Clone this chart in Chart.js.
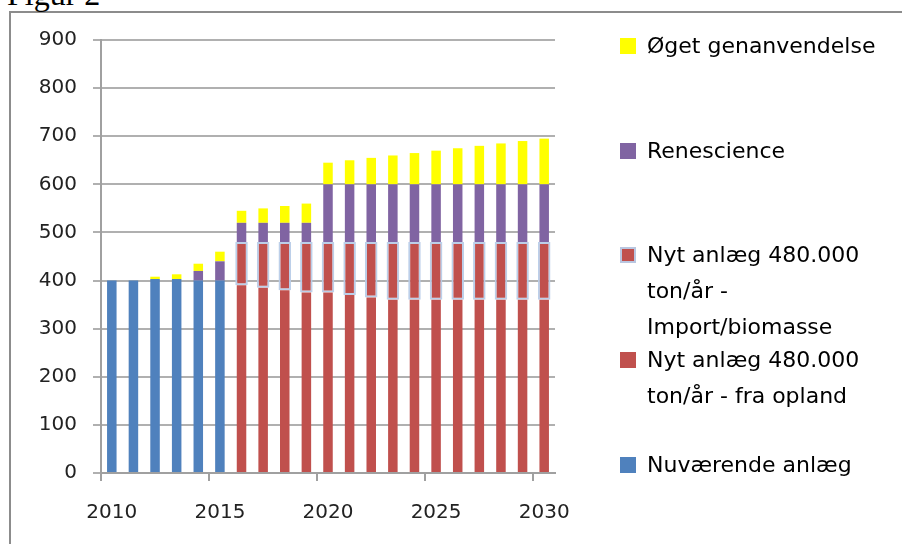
<!DOCTYPE html>
<html>
<head>
<meta charset="utf-8">
<script src="https://cdn.jsdelivr.net/npm/chart.js@4/dist/chart.umd.min.js"></script>
<style>
	body { margin: 0; background: white; overflow: hidden; }
	#Page { position: relative; width: 902px; height: 544px; overflow: hidden; }
	#FigTitle { position: absolute; left: 7px; top: -22px; font: 32px "Liberation Serif", serif; line-height: 32px; color: black; }
	#Frame { position: absolute; left: 9px; top: 11px; width: 1000px; height: 600px; border-top: 2px solid #8c8c8c; border-left: 2px solid #8c8c8c; }
	#ChartCanvas { position: absolute; left: 0; top: 0; }
	.LegendItem { position: absolute; left: 620px; font: 22px "DejaVu Sans", sans-serif; color: black; white-space: pre-line; line-height: 36px; }
	.LegendBox { position: absolute; left: 0; top: 10px; width: 16px; height: 16px; box-sizing: border-box; }
	.LegendText { position: absolute; left: 27px; top: 0; white-space: pre; }
</style>
</head>
<body>
<div id="Page">
	<div id="Frame"></div>
	<div id="FigTitle">Figur 2</div>
	<canvas id="ChartCanvas" width="902" height="544"></canvas>
	<div id="Legend"></div>
</div>
<script>
// Chart data
const years = ["2010", "2011", "2012", "2013", "2014", "2015", "2016", "2017", "2018", "2019", "2020",
	"2021", "2022", "2023", "2024", "2025", "2026", "2027", "2028", "2029", "2030"];

const nuvaerende = [400, 400, 403, 403, 400, 400, null, null, null, null, null,
	null, null, null, null, null, null, null, null, null, null];
const fraOpland = [null, null, null, null, null, null, 390, 385, 380, 375, 375,
	370, 365, 360, 360, 360, 360, 360, 360, 360, 360];
const importBiomasse = [null, null, null, null, null, null, 90, 95, 100, 105, 105,
	110, 115, 120, 120, 120, 120, 120, 120, 120, 120];
const renescience = [null, null, null, null, 20, 40, 40, 40, 40, 40, 120,
	120, 120, 120, 120, 120, 120, 120, 120, 120, 120];
const oegetGenanvendelse = [null, null, 5, 10, 15, 20, 25, 30, 35, 40, 45,
	50, 55, 60, 65, 70, 75, 80, 85, 90, 95];

const seriesNames = [
	"Nuværende anlæg",
	"Nyt anlæg 480.000\nton/år - fra opland",
	"Nyt anlæg 480.000\nton/år -\nImport/biomasse",
	"Renescience",
	"Øget genanvendelse",
];
const yTicks = [0, 100, 200, 300, 400, 500, 600, 700, 800, 900];

// Legend positions (top of each item), listed bottom series first
const legendTops = [447, 342, 237, 133, 28];

const colors = {
	blue: "#4f81bd",
	red: "#c0504d",
	purple: "#8064a2",
	yellow: "#ffff00",
	glow: "rgba(184,204,232,0.95)",
};

Chart.defaults.font.family = "'DejaVu Sans', sans-serif";
Chart.defaults.font.size = 20;
Chart.defaults.color = "#222";

const seriesData = [nuvaerende, fraOpland, importBiomasse, renescience, oegetGenanvendelse];
const seriesColors = [colors.blue, colors.red, colors.red, colors.purple, colors.yellow];

const datasets = seriesData.map(function (data, i) {
	const ds = {
		label: seriesNames[i],
		data: data,
		backgroundColor: seriesColors[i],
		borderWidth: 0,
		barPercentage: 0.44,
		categoryPercentage: 1,
	};
	if (i === 2) {
		// Import/biomasse has a light blue outline round it
		ds.borderColor = colors.glow;
		ds.borderWidth = 2;
		ds.borderSkipped = false;
		ds.barPercentage = 0.58;
	}
	return ds;
});

const chart = new Chart(document.getElementById("ChartCanvas").getContext("2d"), {
	type: "bar",
	data: {
		labels: years,
		datasets: datasets,
	},
	options: {
		responsive: false,
		animation: false,
		devicePixelRatio: 1,
		layout: {
			padding: { left: 0, top: 40, right: 347, bottom: 0 },
		},
		plugins: {
			legend: { display: false },
			tooltip: { enabled: false },
		},
		scales: {
			x: {
				stacked: true,
				offset: true,
				afterFit: function (scale) {
					scale.height = 71;
				},
				grid: {
					offset: true,
					drawOnChartArea: false,
					drawTicks: true,
					tickLength: 8,
					lineWidth: 2,
					tickColor: function (ctx) {
						return ctx.index !== undefined && ctx.index % 5 === 0 ? "#a0a0a0" : "rgba(0,0,0,0)";
					},
				},
				border: { color: "#a0a0a0", width: 2 },
				ticks: {
					autoSkip: false,
					maxRotation: 0,
					padding: 20,
					callback: function (value, index) {
						return index % 5 === 0 ? this.getLabelForValue(value) : "";
					},
				},
			},
			y: {
				stacked: true,
				min: 0,
				max: 900,
				afterFit: function (scale) {
					scale.width = 101;
				},
				afterBuildTicks: function (scale) {
					scale.ticks = yTicks.map(function (v) {
						return { value: v };
					});
				},
				grid: {
					color: "#b0b0b0",
					lineWidth: 2,
					tickLength: 8,
				},
				border: { color: "#a0a0a0", width: 2 },
				ticks: {
					padding: 16,
				},
			},
		},
	},
});

// Build legend from the datasets, top item is the last series
function BuildLegend() {
	const legend = document.getElementById("Legend");
	chart.data.datasets.forEach(function (ds, i) {
		const item = document.createElement("div");
		item.className = "LegendItem";
		item.style.top = legendTops[i] + "px";

		const box = document.createElement("div");
		box.className = "LegendBox";
		box.style.background = ds.backgroundColor;
		if (i === 2) {
			box.style.border = "2px solid " + colors.glow;
		}

		const text = document.createElement("div");
		text.className = "LegendText";
		text.textContent = ds.label;

		item.appendChild(box);
		item.appendChild(text);
		legend.appendChild(item);
	});
}

BuildLegend();
</script>
</body>
</html>
